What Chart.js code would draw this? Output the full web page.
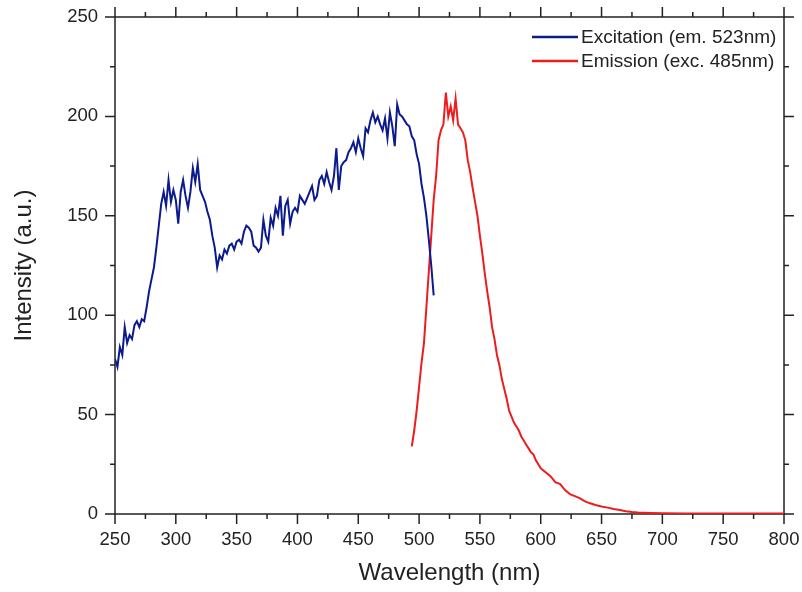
<!DOCTYPE html>
<html>
<head>
<meta charset="utf-8">
<script src="https://cdn.jsdelivr.net/npm/chart.js@4"></script>
<style>
    html, body { margin: 0; padding: 0; background: #ffffff; }
    #wrap { width: 802px; height: 592px; }
</style>
</head>
<body>
<div id="wrap"><canvas id="js--chart"></canvas></div>
<script>
// excitation spectrum (em. 523nm)
const excitationWavelength = [
    250, 252, 254, 256, 258, 260, 262, 264, 266, 268,
    270, 272, 274, 276, 278, 280, 282, 284, 286, 288,
    290, 292, 294, 296, 298, 300, 302, 304, 306, 308,
    310, 312, 314, 316, 318, 320, 322, 324, 326, 328,
    330, 332, 334, 336, 338, 340, 342, 344, 346, 348,
    350, 352, 354, 356, 358, 360, 362, 364, 366, 368,
    370, 372, 374, 376, 378, 380, 382, 384, 386, 388,
    390, 392, 394, 396, 398, 400, 402, 404, 406, 408,
    410, 412, 414, 416, 418, 420, 422, 424, 426, 428,
    430, 432, 434, 436, 438, 440, 442, 444, 446, 448,
    450, 452, 454, 456, 458, 460, 462, 464, 466, 468,
    470, 472, 474, 476, 478, 480, 482, 484, 486, 488,
    490, 492, 494, 496, 498, 500, 502, 504, 506, 508,
    510, 512
];
const excitationIntensity = [
    78, 74, 84, 80, 94, 86, 90, 88, 95, 97,
    94, 98, 97, 104, 112, 118, 124, 134, 145, 156,
    162, 155, 168, 157, 163, 158, 146, 162, 168, 160,
    154, 162, 174, 167, 176, 163, 160, 157, 152, 148,
    140, 134, 124, 130, 128, 133, 131, 135, 136, 133,
    137, 138, 136, 142, 145, 144, 142, 135, 134, 132,
    134, 148, 140, 137, 149, 145, 154, 150, 160, 140,
    155, 158, 146, 152, 154, 152, 160, 158, 156, 159,
    162, 165, 158, 160, 168, 170, 166, 172, 167, 163,
    170, 184, 163, 175, 177, 178, 182, 184, 187, 182,
    189, 184, 180, 194, 192, 198, 202, 197, 200, 196,
    193, 199, 189, 202, 195, 185, 206, 201, 200, 198,
    196, 195, 190, 188, 181, 176, 166, 159, 150, 138,
    125, 110
];

// emission spectrum (exc. 485nm)
const emissionWavelength = [
    494, 496, 498, 500, 502, 504, 506, 508, 510, 512,
    514, 516, 518, 520, 522, 524, 526, 528, 530, 532,
    534, 536, 538, 540, 542, 544, 546, 548, 550, 552,
    554, 556, 558, 560, 562, 564, 566, 568, 570, 572,
    574, 576, 578, 580, 582, 584, 586, 588, 590, 592,
    594, 596, 598, 600, 604, 608, 612, 616, 620, 624,
    628, 632, 636, 640, 645, 650, 655, 660, 665, 670,
    675, 680, 690, 700, 720, 740, 760, 780, 800
];
const emissionIntensity = [
    34, 42, 52, 64, 76, 86, 104, 122, 140, 158,
    170, 188, 193, 196, 212, 200, 205, 198, 209, 196,
    194, 192, 188, 178, 172, 164, 157, 150, 140, 131,
    121, 112, 104, 94, 88, 80, 75, 68, 63, 58,
    52, 49, 46, 44, 42, 39, 37, 35, 33, 31,
    30, 27, 25, 23, 21, 19, 16, 15, 12, 10,
    9, 8, 6.5, 5.5, 4.5, 3.8, 3.2, 2.5, 2, 1.4,
    1, 0.7, 0.5, 0.4, 0.3, 0.3, 0.2, 0.2, 0.2
];

const seriesLabels = ['Excitation (em. 523nm)', 'Emission (exc. 485nm)'];
const seriesColors = ['#0b1a8c', '#ee1c1c'];

const xTicks = [250, 300, 350, 400, 450, 500, 550, 600, 650, 700, 750, 800];
const yTicks = [0, 50, 100, 150, 200, 250];

const inkColor = '#222222';
const fontFamily = '"Liberation Sans", Arial, sans-serif';

function toPoints(xs, ys) {
    return xs.map(function (x, i) {
        return { x: x, y: ys[i] };
    });
}

// the label overhang padding would push the plot in, so drop it
function noOverhang(scale) {
    scale.paddingLeft = 0;
    scale.paddingRight = 0;
    scale.paddingTop = 0;
    scale.paddingBottom = 0;
}

// frame with ticks on all four sides (major + minor), drawn from the scales
const framePlugin = {
    id: 'frame',
    beforeDatasetsDraw: function (chart) {
        const ctx = chart.ctx;
        const a = chart.chartArea;
        const xs = chart.scales.x;
        const ys = chart.scales.y;
        ctx.save();
        ctx.strokeStyle = inkColor;
        ctx.lineWidth = 1.5;
        ctx.strokeRect(a.left, a.top, a.right - a.left, a.bottom - a.top);
        ctx.beginPath();
        for (let v = xs.min; v <= xs.max; v += 25) {
            const len = (v % 50 === 0) ? 10 : 5;
            const px = xs.getPixelForValue(v);
            ctx.moveTo(px, a.bottom);
            ctx.lineTo(px, a.bottom + len);
            ctx.moveTo(px, a.top);
            ctx.lineTo(px, a.top - len);
        }
        for (let v = ys.min; v <= ys.max; v += 25) {
            const len = (v % 50 === 0) ? 10 : 5;
            const py = ys.getPixelForValue(v);
            ctx.moveTo(a.left, py);
            ctx.lineTo(a.left - len, py);
            ctx.moveTo(a.right, py);
            ctx.lineTo(a.right + len, py);
        }
        ctx.stroke();
        ctx.restore();
    }
};

// legend in the top right corner of the plot
const legendPlugin = {
    id: 'cornerLegend',
    afterDraw: function (chart) {
        const ctx = chart.ctx;
        ctx.save();
        ctx.font = '19px ' + fontFamily;
        ctx.textBaseline = 'middle';
        ctx.textAlign = 'left';
        chart.data.datasets.forEach(function (ds, i) {
            const y = 37 + i * 24;
            ctx.strokeStyle = ds.borderColor;
            ctx.lineWidth = 2.5;
            ctx.beginPath();
            ctx.moveTo(532, y);
            ctx.lineTo(578, y);
            ctx.stroke();
            ctx.fillStyle = inkColor;
            ctx.fillText(ds.label, 581, y + 1);
        });
        ctx.restore();
    }
};

const data = {
    datasets: [{
        label: seriesLabels[0],
        data: toPoints(excitationWavelength, excitationIntensity),
        borderColor: seriesColors[0],
        backgroundColor: seriesColors[0],
        borderWidth: 2,
        pointRadius: 0,
        showLine: true,
        tension: 0
    }, {
        label: seriesLabels[1],
        data: toPoints(emissionWavelength, emissionIntensity),
        borderColor: seriesColors[1],
        backgroundColor: seriesColors[1],
        borderWidth: 2,
        pointRadius: 0,
        showLine: true,
        tension: 0
    }]
};

const config = {
    type: 'scatter',
    data: data,
    options: {
        responsive: true,
        maintainAspectRatio: false,
        animation: false,
        layout: { padding: { left: 0, right: 18, top: 17, bottom: 0 } },
        plugins: {
            legend: { display: false },
            tooltip: { enabled: false }
        },
        scales: {
            x: {
                type: 'linear',
                position: 'bottom',
                min: 250,
                max: 800,
                afterBuildTicks: function (scale) {
                    scale.ticks = xTicks.map(function (v) { return { value: v }; });
                },
                afterFit: function (scale) {
                    scale.height = 78;
                    noOverhang(scale);
                },
                grid: { display: false, drawTicks: false, tickLength: 0 },
                border: { display: false },
                ticks: {
                    color: inkColor,
                    padding: 15,
                    maxRotation: 0,
                    autoSkip: false,
                    font: { family: fontFamily, size: 18.5 }
                },
                title: {
                    display: true,
                    text: 'Wavelength (nm)',
                    color: inkColor,
                    padding: { top: 0, bottom: 4 },
                    font: { family: fontFamily, size: 24 }
                }
            },
            y: {
                type: 'linear',
                position: 'left',
                min: 0,
                max: 250,
                afterBuildTicks: function (scale) {
                    scale.ticks = yTicks.map(function (v) { return { value: v }; });
                },
                afterFit: function (scale) {
                    scale.width = 115;
                    noOverhang(scale);
                },
                grid: { display: false, drawTicks: false, tickLength: 0 },
                border: { display: false },
                ticks: {
                    color: inkColor,
                    padding: 17,
                    autoSkip: false,
                    font: { family: fontFamily, size: 18.5 }
                },
                title: {
                    display: true,
                    text: 'Intensity (a.u.)',
                    color: inkColor,
                    padding: { top: 10, bottom: 0 },
                    font: { family: fontFamily, size: 24 }
                }
            }
        }
    },
    plugins: [framePlugin, legendPlugin]
};

new Chart(document.getElementById("js--chart"), config);
</script>
</body>
</html>
